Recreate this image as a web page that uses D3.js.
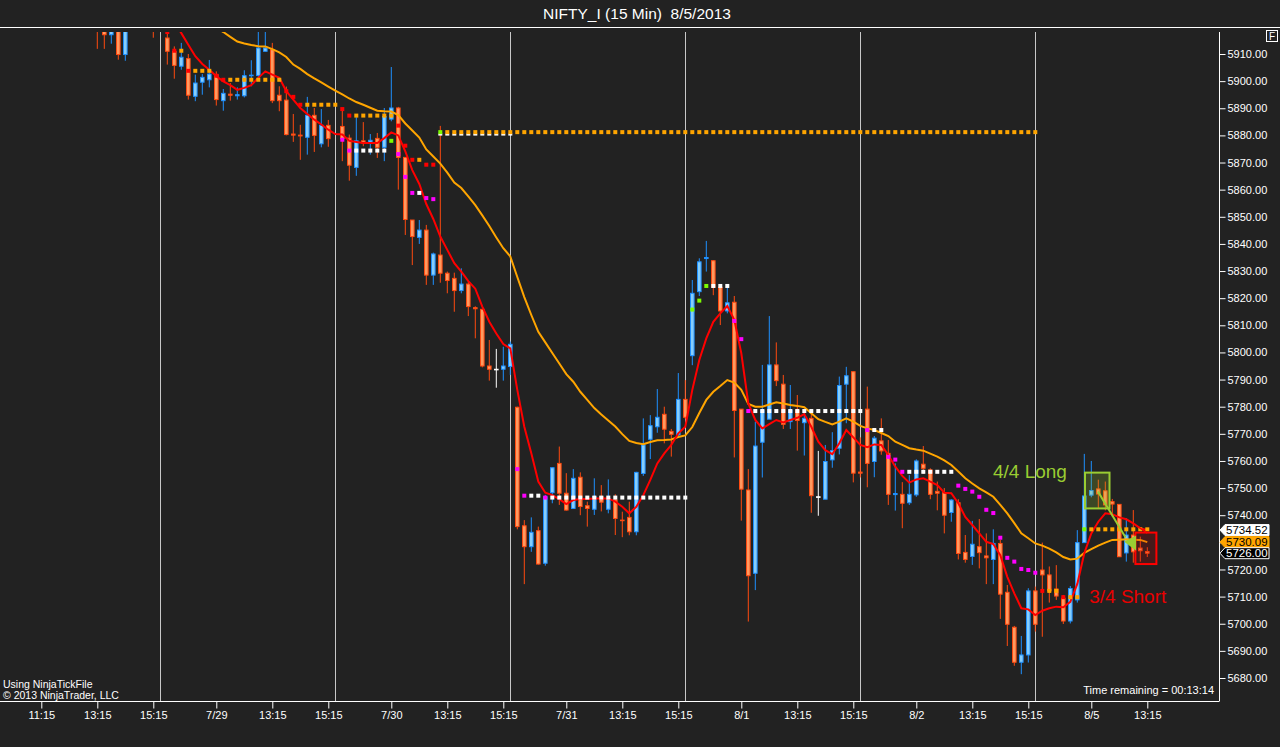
<!DOCTYPE html>
<html><head><meta charset="utf-8">
<script src="https://cdn.jsdelivr.net/npm/d3@7"></script>
<style>body{margin:0;background:#222;} svg{display:block;font-family:"Liberation Sans",Arial,sans-serif;}</style>
</head><body><svg id="c" width="1280" height="747"></svg>
<script>
// ---- DATA ----
const titleText = "NIFTY_I (15 Min)  8/5/2013";
// [barIndex, open, high, low, close]
const candles = [
[13,5925,5930,5911.9,5920],[14,5925,5928,5911.9,5917.1],[15,5917.1,5928,5913.8,5924],
[16,5925,5930,5907.9,5909.8],[17,5909.8,5926,5907.5,5922],[21,5925,5930,5916,5920],
[23,5915.9,5917.4,5906.1,5911.0],[24,5911.0,5912.8,5900.9,5905.8],[25,5905.5,5914.1,5904.2,5908.8],
[26,5908.3,5910,5893.2,5894.8],[27,5894.4,5902.4,5892.6,5899.3],[28,5899.6,5902.6,5895,5901.4],
[29,5900.5,5907.8,5897.7,5902.6],[30,5902.4,5903.6,5891,5893.2],[31,5892.8,5897.1,5889.1,5895.5],
[32,5895.2,5899.3,5892.8,5894.8],[33,5894.6,5897.7,5893.2,5895],[34,5894.6,5904,5894,5902],
[35,5902,5907.7,5898.1,5902.2],[36,5902.1,5920,5901.2,5912.2],[37,5911,5919,5911,5912.2],
[38,5911.6,5914.1,5891.9,5892.8],[39,5894.8,5898.1,5888.9,5892.8],[40,5893,5898,5880,5880.3],
[41,5880.5,5887.9,5877.6,5880.1],[42,5880.1,5883.9,5871,5879.8],[43,5879.3,5894.2,5872.9,5887.4],
[44,5887.4,5890.1,5873.9,5880],[45,5876.9,5889.7,5875.6,5883.7],[46,5883.7,5885.7,5875.8,5878.8],
[48,5883.3,5889.5,5870.5,5878.8],[49,5879,5880.3,5863.3,5869],[50,5868.2,5886.7,5865.1,5878],
[51,5878,5884.9,5876,5877.2],[52,5877.5,5880.5,5872.9,5878.2],[53,5878.9,5880.9,5871.7,5875.6],
[54,5875.6,5890.1,5870.5,5887],[55,5886,5905.2,5885.2,5890.1],[56,5890.1,5890.5,5860,5871.9],
[57,5871.9,5872,5843.3,5849],[58,5848.8,5848.8,5832.2,5842.7],[59,5842.4,5848.8,5840,5845.1],
[60,5845.1,5847,5824.9,5828.5],[61,5828.5,5836.8,5824.9,5836.3],[62,5835.9,5883.5,5825.7,5829.2],
[63,5829.2,5829.8,5821.8,5826.5],[64,5827.3,5829.4,5815,5822.8],[65,5822.8,5831,5821.8,5825.2],
[66,5825.2,5826,5813.4,5816.9],[67,5816.5,5817,5805.2,5816.1],[68,5815.9,5816,5794.5,5795],
[69,5795,5804.6,5789.6,5793.8],[70,5793.8,5801.3,5787,5793.8],[71,5793.8,5802.1,5789.6,5795],
[72,5794.8,5804,5791.7,5803],[73,5779.8,5780,5734.8,5735.8],[74,5736.1,5738.2,5714.6,5728.4],
[75,5728.4,5739.2,5726.5,5733.7],[76,5734.3,5735.8,5721.8,5722],[77,5722.3,5747.5,5721.4,5746.8],
[78,5748.3,5757.6,5744.4,5757.5],[79,5759.1,5765.3,5743.8,5748.1],[80,5748.1,5755.5,5741.7,5741.9],
[81,5742.5,5757,5742.4,5753.6],[82,5754,5755.8,5740,5743.2],[83,5743.5,5745,5735.8,5742.5],
[84,5742.2,5753.6,5740.1,5746.8],[85,5746.8,5751.1,5741.4,5744.8],[86,5742.2,5753.2,5740.7,5746.2],
[87,5745.6,5747.7,5732.7,5738.8],[88,5738.2,5741.3,5731.9,5738],[89,5739.2,5745,5732.6,5733.9],
[90,5733.9,5756,5732.6,5755.8],[91,5755.4,5775.7,5754.5,5765.9],[92,5768,5776.9,5760.7,5773],
[93,5772.6,5786.5,5770.4,5776.1],[94,5777.2,5780,5766.5,5771.7],[95,5770.9,5771.8,5761.6,5769.8],
[96,5769.6,5792.4,5769,5782.7],[97,5782.7,5789.8,5775.4,5776.1],[98,5798.8,5826.7,5795.3,5821.8],
[99,5822.4,5834.7,5820.8,5833.4],[100,5834.6,5841.1,5829.8,5835],[101,5833.8,5834,5821.1,5824],
[102,5824,5824.9,5810.1,5815.3],[103,5815.3,5824.3,5814.4,5818.3],[104,5818.5,5820.8,5761.3,5778.6],
[105,5779.1,5779.1,5738,5749.6],[106,5749.3,5757,5700.8,5717.7],[107,5718.6,5774.5,5712.4,5765.5],
[108,5766.9,5795.4,5753.9,5778.8],[109,5775.4,5813.4,5775.4,5795.4],[110,5795.4,5803.7,5787.6,5789.6],
[111,5788.3,5791.7,5771.8,5773.5],[112,5774.5,5788,5771.8,5778.8],[113,5778.8,5784.3,5763.8,5774.9],
[114,5774.1,5778.8,5762,5775.7],[115,5775.7,5778.8,5740.9,5747.2],[116,5746.8,5763.7,5739.8,5746.8],
[117,5745.9,5765.9,5745.9,5759.8],[118,5760.4,5770.6,5757.5,5763.8],[119,5764.7,5791.1,5762.4,5787.8],
[120,5788.3,5794.7,5773.9,5791.4],[121,5792.9,5793,5752.1,5755.5],[122,5755.9,5768.7,5753.9,5755.5],
[123,5779.1,5787.4,5750.3,5759.1],[124,5759.8,5769.2,5754,5768.4],[125,5767.4,5775.7,5762.3,5763.7],
[126,5762.8,5767.7,5743.8,5747.7],[127,5747.6,5759.1,5741.7,5748],[128,5747.7,5752.2,5735.2,5744.4],
[129,5744.6,5754.8,5743.8,5747.7],[130,5747.5,5760.6,5746.8,5760],[131,5758.8,5765.5,5755.2,5757.3],
[132,5756.7,5757.3,5745.9,5747.7],[133,5748.8,5752.4,5741.8,5748.1],[134,5748.3,5750,5733.3,5740],
[135,5741,5745.9,5737.6,5745.6],[136,5744.6,5745.9,5723.7,5725.9],[137,5726.3,5732.7,5722.5,5723.7],
[138,5724.8,5737.9,5721.7,5729.3],[139,5728.4,5738.6,5720.4,5726.2],[140,5725,5733.3,5714.6,5724.3],
[141,5723.7,5734.8,5714.6,5729.6],[142,5729.6,5730.9,5701.8,5710.9],[143,5711.6,5714.3,5691.8,5699.8],
[144,5698.7,5699.2,5684.5,5685.8],[145,5685.8,5695.5,5681.4,5688.5],[146,5688.5,5713.1,5685.7,5712.1],
[147,5712.1,5713.7,5697.1,5699.8],[148,5719.8,5729.9,5695.2,5718],[149,5718,5721.1,5707.8,5712.1],
[150,5712.8,5721.6,5708.8,5710.2],[151,5709.4,5710.6,5699.9,5701],[152,5701,5713.9,5700.1,5713],
[153,5708.8,5734.5,5707.8,5729.9],[154,5729.9,5762.6,5729.9,5747.1],[155,5747.4,5760,5746.6,5749.1],
[156,5749.7,5753.1,5742.6,5747.8],[157,5749,5752.4,5741.8,5743.8],[158,5745,5746,5739.5,5744.1],
[159,5744,5744,5724.7,5724.7],[160,5726.1,5738.9,5722.9,5732.7],[161,5732.7,5741.9,5722.5,5726.5],
[162,5727.9,5732.1,5722.9,5726.9],[163,5726.6,5728.2,5724.6,5726]
];
// fast (red) moving average, from bar 22
const fastStart = 22;
const fastLine = [5928.1,5925.1,5921.8,5917.7,5913.4,5909.2,5906.3,5904.2,5901.8,5899.9,5898.5,5896.8,5897.5,5898.5,5901.2,5903.6,5902.4,5901.2,5896.3,5893.2,5890.1,5887.9,5885.8,5884,5882.1,5880.5,5880.3,5878,5877.6,5877.2,5877.2,5877.2,5879,5881.1,5880,5874.1,5867.2,5862.1,5854.7,5849.2,5842.7,5837.8,5832.9,5829.8,5826.3,5823.5,5816.9,5811.3,5807,5803.1,5801.5,5786.2,5772.6,5762.8,5752.4,5748.3,5747.4,5745.9,5744.1,5745.6,5746,5746,5746.2,5746.2,5746.2,5745,5743.1,5740.7,5743.1,5747.4,5753,5759.1,5762.8,5765.9,5770.2,5772.6,5786.2,5797.2,5805.2,5811.3,5814.4,5817.1,5812,5799.7,5781.2,5775.1,5772,5773.6,5775.1,5774.2,5775.1,5775.9,5777.3,5772.6,5767.1,5764,5762.5,5766.5,5771.4,5768.7,5765.9,5765.1,5766.1,5765.9,5762.2,5757.9,5754.5,5752,5753.2,5753.6,5752.4,5751.1,5748.3,5748.1,5744.4,5739.4,5736.4,5733.3,5730.2,5729.4,5725.3,5717.3,5711.2,5705.7,5705.3,5703.2,5704.8,5705.7,5706.3,5706.1,5708.1,5714.7,5726,5733.3,5737.6,5740.7,5740.4,5739.2,5738.5,5737,5735.2,5734.5];
// slow (orange) moving average, from bar 29
const slowStart = 29;
const slowLine = [5921.1,5919.6,5918.1,5916.3,5914.6,5913.9,5913.3,5912.9,5912.8,5911.8,5910.6,5908.9,5906.1,5904.5,5902.6,5901,5899.5,5898,5896.5,5895.1,5893.6,5892.3,5891.3,5890.2,5889.1,5888.9,5888.8,5887.5,5884.4,5881.8,5879.2,5874.8,5872.2,5869.6,5866.3,5862.6,5860.6,5857.5,5854.3,5850.5,5846.6,5842.4,5838.4,5835.4,5827.8,5820.4,5813.8,5807.6,5803.7,5799.8,5795.9,5792,5789.2,5785.5,5782.5,5779.5,5777.1,5774.9,5772.7,5769.9,5767.4,5766.6,5766.2,5767,5767.6,5767.7,5767.9,5768.8,5769.4,5772.5,5777.7,5782.5,5785.5,5787.6,5789.8,5788.9,5786.2,5781,5780,5780,5780.8,5781.6,5781.2,5780.6,5780.3,5779.8,5777.6,5775.4,5774.4,5773.5,5774.5,5775.7,5774.5,5772.9,5772,5771.4,5770.3,5769.2,5767.1,5765.9,5764.7,5764.2,5763.8,5762.7,5761.6,5760.2,5758.5,5756.1,5753.6,5751.7,5749.9,5748.4,5746.8,5743.8,5740.7,5737.1,5733.3,5731.5,5729.6,5728.8,5727.7,5726.3,5724.6,5723.7,5724,5726.1,5727.5,5728.8,5729.9,5730.9,5731,5731.1,5731,5730.9,5730.09];
// level markers: [color, fromBar, toBar, price]
const levelMarks = [
["red",23,23,5918.1],["red",24,24,5911.2],["orange",25,25,5911.2],
["red",26,26,5903.8],["orange",27,29,5903.8],
["red",30,30,5902.0],["red",31,31,5900.5],["orange",32,39,5900.5],
["red",40,40,5896.3],["red",41,41,5894.2],["red",42,42,5891.3],["orange",43,47,5891.3],
["red",48,48,5889.7],["red",49,49,5887.3],["orange",50,55,5887.3],
["red",56,56,5883.6],["red",57,57,5876.2],["red",58,58,5871.0],["orange",59,59,5871.0],["red",60,61,5869.2],
["magenta",48,48,5878.4],["magenta",49,49,5874.4],["white",50,54,5874.4],["green",55,55,5878.0],
["magenta",56,56,5873.1],["magenta",57,57,5864.7],["magenta",58,58,5858.8],["white",59,59,5858.8],
["magenta",60,60,5856.9],["magenta",61,61,5856.5],
["green",62,62,5881.2],["orange",63,147,5881.2],
["magenta",73,73,5757.0],["magenta",74,74,5747.2],["white",75,76,5747.2],["magenta",77,77,5746.5],["white",78,97,5746.5],
["green",98,98,5815.8],["green",99,99,5819.1],["green",100,100,5824.5],["white",101,103,5824.5],
["magenta",104,104,5811.6],["magenta",105,105,5804.9],["magenta",106,106,5778.4],["white",107,122,5778.4],
["magenta",123,123,5771.4],["white",124,125,5771.4],
["magenta",126,126,5761.5],["magenta",127,127,5760.5],["magenta",128,128,5756.0],["white",129,135,5756.0],
["magenta",136,136,5750.9],["magenta",137,137,5749.7],["magenta",138,138,5748.7],["magenta",139,139,5746.8],
["magenta",140,140,5742.0],["magenta",141,141,5740.8],["magenta",142,142,5731.7],["magenta",143,143,5724.3],
["magenta",144,144,5722.9],["magenta",145,145,5720.2],["magenta",146,146,5719.8],["magenta",147,147,5718.8],
["red",148,148,5712.1],["orange",149,150,5712.1],["red",151,151,5709.8],["orange",152,153,5709.8],
["green",154,154,5734.8],["orange",155,163,5734.8]
];
const thinWhiteLevel = [62,72,5880.3];
const sessionBreaks = [22,47,72,97,122,147];
const xTickBars = [5,13,21,30,38,46,55,63,71,80,88,96,105,113,121,130,138,146,155,163];
const xTickLabels = ["11:15","13:15","15:15","7/29","13:15","15:15","7/30","13:15","15:15","7/31","13:15","15:15","8/1","13:15","15:15","8/2","13:15","15:15","8/5","13:15"];
const yTicks = d3.range(5680, 5911, 10);
const priceTags = [[5734.52,"#ffffff","#000000","#ffffff"],[5730.09,"#ffa500","#000000","#ffa500"],[5726.00,"#000000","#ffffff","#ffffff"]];
// annotations in bar/price units
const longBox = [154.1,157.6,5755.7,5742.5];
const shortBox = [161.3,164.3,5733.6,5722.0];
const longArrow = [155.96,5748.7,159.9,5731.8];
const longArrowHead = [[159.7,5730.2],[161.4,5732.5],[161.4,5726.9]];
const shortArrow = [161.7,5735.7,163.0,5733.4];
const longLabel = ["4/4 Long",140.95,5753.7];
const shortLabel = ["3/4 Short",154.7,5707.6];

// ---- DRAW ----
const svg = d3.select("#c");
const BG = "#222222";
svg.append("rect").attr("width",1280).attr("height",747).attr("fill",BG);
const x = d3.scaleLinear().domain([0,100]).range([6.3,706.3]);
const y = d3.scaleLinear().domain([5680,5910]).range([678,54]);
const plotL=0, plotR=1219, plotT=32, plotB=701;
const colors = {red:"#ff0000",orange:"#ffa500",white:"#ffffff",magenta:"#ff00ff",green:"#7cfc00"};

svg.append("defs").append("clipPath").attr("id","clip").append("rect")
  .attr("x",plotL).attr("y",plotT).attr("width",plotR-plotL).attr("height",plotB-plotT);

// frame lines
svg.append("line").attr("x1",0).attr("x2",1280).attr("y1",27.5).attr("y2",27.5).attr("stroke","#fff");
svg.append("line").attr("x1",plotR+0.5).attr("x2",plotR+0.5).attr("y1",plotT).attr("y2",plotB).attr("stroke","#fff");
svg.append("line").attr("x1",0).attr("x2",plotR+0.5).attr("y1",plotB+0.5).attr("y2",plotB+0.5).attr("stroke","#fff");

const g = svg.append("g").attr("clip-path","url(#clip)");
// session breaks
g.selectAll("line.sep").data(sessionBreaks).join("line").attr("class","sep")
  .attr("x1",d=>Math.round(x(d))+0.5).attr("x2",d=>Math.round(x(d))+0.5)
  .attr("y1",plotT).attr("y2",plotB).attr("stroke","#c8c8c8").attr("stroke-width",1);

// candles
function cstyle(d){
  if (d[1]===d[4]) return {fill:"#ffffff",stroke:"#ffffff"};
  return d[4]>d[1] ? {fill:"#87cefa",stroke:"#1e90ff"} : {fill:"#ff9a60",stroke:"#ff4a10"};
}
const cg = g.append("g");
cg.selectAll("line.wick").data(candles).join("line").attr("class","wick")
  .attr("x1",d=>x(d[0])).attr("x2",d=>x(d[0]))
  .attr("y1",d=>y(d[2])).attr("y2",d=>y(d[3]))
  .attr("stroke",d=>cstyle(d).stroke).attr("stroke-width",1);
cg.selectAll("rect.body").data(candles).join("rect").attr("class","body")
  .attr("x",d=>x(d[0])-1.8).attr("width",3.6)
  .attr("y",d=>y(Math.max(d[1],d[4])))
  .attr("height",d=>Math.max(0.6,Math.abs(y(d[1])-y(d[4]))))
  .attr("fill",d=>cstyle(d).fill).attr("stroke",d=>cstyle(d).stroke).attr("stroke-width",1);

// lines
const slowPts = slowLine.map((v,i)=>[slowStart+i,v]);
const fastPts = fastLine.map((v,i)=>[fastStart+i,v]);
const lineGen = d3.line().x(d=>x(d[0])).y(d=>y(d[1]));
g.append("path").attr("d",lineGen(slowPts)).attr("fill","none").attr("stroke","#ffa500").attr("stroke-width",2);
g.append("path").attr("d",lineGen(fastPts)).attr("fill","none").attr("stroke","#ff0000").attr("stroke-width",2);

// level markers
const marks = [];
levelMarks.forEach(m=>{ for(let k=m[1];k<=m[2];k++) marks.push({k:k,p:m[3],c:colors[m[0]]}); });
const thin=[]; for(let k=thinWhiteLevel[0];k<=thinWhiteLevel[1];k++) thin.push(k);
g.selectAll("rect.thin").data(thin).join("rect").attr("class","thin")
  .attr("x",d=>x(d)-2).attr("y",y(thinWhiteLevel[2])-1).attr("width",4).attr("height",2).attr("fill","#fff");
g.selectAll("rect.mk").data(marks).join("rect").attr("class","mk")
  .attr("x",d=>x(d.k)-2).attr("y",d=>y(d.p)-2).attr("width",4).attr("height",4).attr("fill",d=>d.c);

// annotations
g.append("rect").attr("x",x(longBox[0])).attr("width",x(longBox[1])-x(longBox[0]))
  .attr("y",y(longBox[2])).attr("height",y(longBox[3])-y(longBox[2]))
  .attr("fill","rgba(154,205,50,0.22)").attr("stroke","#9acd32").attr("stroke-width",2);
g.append("rect").attr("x",x(shortBox[0])).attr("width",x(shortBox[1])-x(shortBox[0]))
  .attr("y",y(shortBox[2])).attr("height",y(shortBox[3])-y(shortBox[2]))
  .attr("fill","rgba(200,0,0,0.22)").attr("stroke","#ff0000").attr("stroke-width",2);
g.append("line").attr("x1",x(longArrow[0])).attr("y1",y(longArrow[1])).attr("x2",x(longArrow[2])).attr("y2",y(longArrow[3]))
  .attr("stroke","#9acd32").attr("stroke-width",2);
g.append("path").attr("d",d3.line().x(d=>x(d[0])).y(d=>y(d[1]))(longArrowHead)+"Z").attr("fill","#9acd32");
g.append("line").attr("x1",x(shortArrow[0])).attr("y1",y(shortArrow[1])).attr("x2",x(shortArrow[2])).attr("y2",y(shortArrow[3]))
  .attr("stroke","#ff0000").attr("stroke-width",1.5);
g.append("text").attr("x",x(longLabel[1])).attr("y",y(longLabel[2])).text(longLabel[0])
  .attr("fill","#9acd32").attr("font-size",19);
g.append("text").attr("x",x(shortLabel[1])).attr("y",y(shortLabel[2])).text(shortLabel[0])
  .attr("fill","#e80000").attr("font-size",19);

// y axis
const yAxis = svg.append("g").attr("transform",`translate(${plotR+0.5},0)`)
  .call(d3.axisRight(y).tickValues(yTicks).tickSize(6).tickPadding(2).tickFormat(d3.format(".2f")));
yAxis.select(".domain").remove();
yAxis.selectAll("line").attr("stroke","#fff");
yAxis.selectAll("text").attr("fill","#fff").attr("font-size",11).attr("font-family","Liberation Sans, Arial, sans-serif");

// x axis
const xAxis = svg.append("g").attr("transform",`translate(0,${plotB+0.5})`)
  .call(d3.axisBottom(x).tickValues(xTickBars).tickSize(7).tickPadding(3).tickFormat((d,i)=>xTickLabels[i]));
xAxis.select(".domain").remove();
xAxis.selectAll("line").attr("stroke","#fff");
xAxis.selectAll("text").attr("fill","#fff").attr("font-size",11).attr("font-family","Liberation Sans, Arial, sans-serif");

// price tags
priceTags.forEach(t=>{
  const yy = y(t[0]);
  const x0 = plotR+1, h=11;
  svg.append("path").attr("d",`M${x0},${yy} L${x0+5},${yy-h/2} L1269,${yy-h/2} L1269,${yy+h/2} L${x0+5},${yy+h/2} Z`)
    .attr("fill",t[1]).attr("stroke",t[3]).attr("stroke-width",1);
  svg.append("text").attr("x",1226).attr("y",yy+4).text(t[0].toFixed(2)).attr("fill",t[2]).attr("font-size",11.5);
});

// title & texts
svg.append("text").attr("x",637).attr("y",19).attr("text-anchor","middle").attr("fill","#fff")
  .attr("font-size",15.5).style("white-space","pre").text(titleText);
svg.append("text").attr("x",3).attr("y",687.5).attr("fill","#fff").attr("font-size",10.5).text("Using NinjaTickFile");
svg.append("text").attr("x",3).attr("y",698.5).attr("fill","#fff").attr("font-size",10.5).text("© 2013 NinjaTrader, LLC");
svg.append("text").attr("x",1214).attr("y",694).attr("text-anchor","end").attr("fill","#fff").attr("font-size",11).text("Time remaining = 00:13:14");
svg.append("rect").attr("x",1266.5).attr("y",30.5).attr("width",11).attr("height",11).attr("fill","none").attr("stroke","#fff");
svg.append("text").attr("x",1272).attr("y",40).attr("text-anchor","middle").attr("fill","#fff").attr("font-size",10).text("F");
</script></body></html>
